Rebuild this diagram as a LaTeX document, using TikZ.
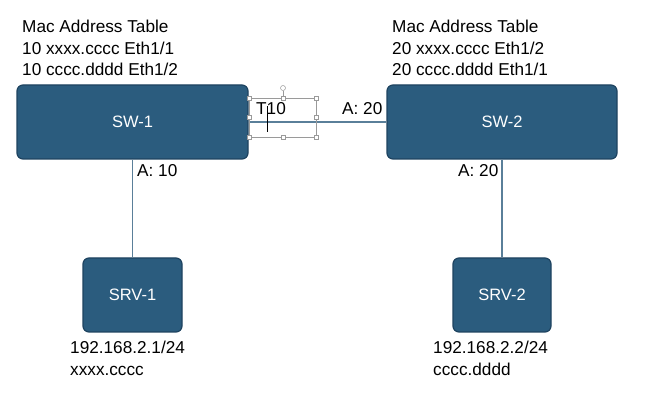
\documentclass[tikz,border=0pt]{standalone}
\usepackage{fontspec}
\setmainfont{Liberation Sans}
\definecolor{boxfill}{HTML}{2B5C7E}
\definecolor{boxdraw}{HTML}{1E4360}
\definecolor{linkcol}{HTML}{5A7F99}
\definecolor{selcol}{HTML}{9A9A9A}
\begin{document}
\begin{tikzpicture}[x=1pt,y=1pt,
  devbox/.style={draw=boxdraw,fill=boxfill,line width=1.2pt,rounded corners=6pt,text=white,font=\fontsize{16.5}{19}\selectfont},
  link/.style={draw=linkcol,line width=1.5pt},
  lbl/.style={anchor=base west,inner sep=0pt,font=\fontsize{17.2}{20}\selectfont},
  handle/.style={draw=selcol,fill=white,line width=0.5pt,minimum size=4pt,inner sep=0pt}]
\useasboundingbox (0,0) rectangle (647,412);
% devices
\node[devbox,minimum width=231pt,minimum height=74pt] (sw1) at (132.5,290) {SW-1};
\node[devbox,minimum width=230pt,minimum height=74pt] (sw2) at (502,290) {SW-2};
\node[devbox,minimum width=99pt,minimum height=74pt] (srv1) at (132.5,117) {SRV-1};
\node[devbox,minimum width=98pt,minimum height=74pt] (srv2) at (502,117) {SRV-2};
% links
\draw[link] (sw1.east) -- (sw2.west);
\draw[link] (sw1.south) -- (srv1.north);
\draw[link] (sw2.south) -- (srv2.north);
% mac tables
\node[lbl] (m1a) at (22,379) {Mac Address Table};
\node[lbl] (m1b) at (22,357.5) {10 xxxx.cccc Eth1/1};
\node[lbl] (m1c) at (22,336) {10 cccc.dddd Eth1/2};
\node[lbl] (m2a) at (392,379) {Mac Address Table};
\node[lbl] (m2b) at (392,357.5) {20 xxxx.cccc Eth1/2};
\node[lbl] (m2c) at (392,336) {20 cccc.dddd Eth1/1};
% port labels
\node[lbl] (a10) at (137,235) {A: 10};
\node[lbl] (a20b) at (458,235) {A: 20};
\node[lbl] (a20a) at (342,297) {A: 20};
% selected text box
\draw[selcol,line width=0.5pt] (249,314) rectangle (316,275);
\draw[selcol,line width=0.5pt] (283,314) -- (283,321);
\draw[selcol,fill=white,line width=0.5pt] (283,324) circle (2.5pt);
\foreach \px/\py [count=\i] in {249/314,283/314,316/314,249/294.5,316/294.5,249/275,283/275,316/275}
  \node[handle] (h\i) at (\px,\py) {};
\node[lbl] (t10) at (256,297) {T10};
\draw[black,line width=0.6pt] (267,306) -- (267,280);
% server info
\node[lbl] (s1a) at (70,59) {192.168.2.1/24};
\node[lbl] (s1b) at (70,37) {xxxx.cccc};
\node[lbl] (s2a) at (433,59) {192.168.2.2/24};
\node[lbl] (s2b) at (433,37) {cccc.dddd};
\end{tikzpicture}
\end{document}
